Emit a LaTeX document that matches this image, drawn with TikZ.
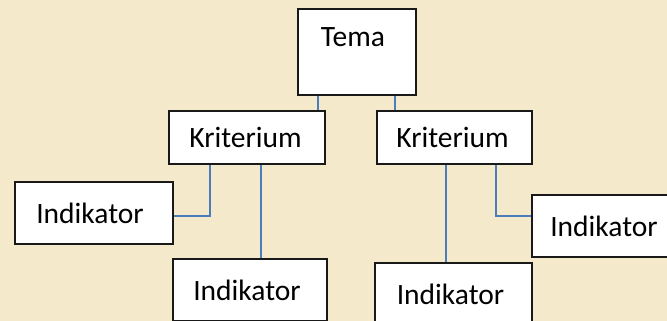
\documentclass[tikz,border=0pt]{standalone}
\usepackage{fontspec}
\setmainfont{Carlito}
\usepackage{tikz}
\usetikzlibrary{positioning}

\definecolor{bgcream}{HTML}{F4EACB}
\definecolor{linkblue}{HTML}{4A7EBB}

\begin{document}
\begin{tikzpicture}[
	x = 1pt, y = -1pt, % pixel-like units
	thick,
	B/.style={rectangle, draw=black!90, fill=white, line width=1.4pt, inner sep=0pt, font=\fontsize{29.5}{35}\selectfont},  % white box
	L/.style={draw=linkblue, line width=2pt},  % connector
	]

	% Background
	\clip (0,0) rectangle (667,321);
	\fill[bgcream] (0,0) rectangle (667,321);

	% Nodes and their positions
	\node[B, minimum width=118pt, text height=38pt, text depth=48pt] (T) at (357,52) {\hspace*{-8pt}Tema};
	\node[B, minimum width=156pt, minimum height=53pt] (K1) at (247,137.5) {\hspace*{-3pt}Kriterium};
	\node[B, minimum width=155pt, minimum height=53pt] (K2) at (454.5,137.5) {\hspace*{-4pt}Kriterium};
	\node[B, minimum width=158pt, minimum height=62pt] (I1) at (94,213) {\hspace*{-8pt}Indikator};
	\node[B, minimum width=154pt, minimum height=62pt] (I2) at (250,290) {\hspace*{-6pt}Indikator};
	\node[B, minimum width=150pt, minimum height=62pt] (I3) at (607,226) {\hspace*{-6pt}Indikator};
	\node[B, minimum width=157pt, minimum height=62pt] (I4) at (453.5,294) {\hspace*{-6pt}Indikator};

	% Paths connecting nodes
	\draw[L] ([xshift=21pt]T.south west) -- ([xshift=21pt]T.south west |- K1.north);
	\draw[L] ([xshift=-22pt]T.south east) -- ([xshift=-22pt]T.south east |- K2.north);
	\draw[L] ([xshift=42pt]K1.south west) |- ([yshift=-3pt]I1.east);
	\draw[L] ([xshift=93pt]K1.south west) -- ([xshift=93pt]K1.south west |- I2.north);
	\draw[L] ([xshift=70pt]K2.south west) -- ([xshift=70pt]K2.south west |- I4.north);
	\draw[L] ([xshift=120pt]K2.south west) |- ([yshift=10pt]I3.west);

\end{tikzpicture}
\end{document}
